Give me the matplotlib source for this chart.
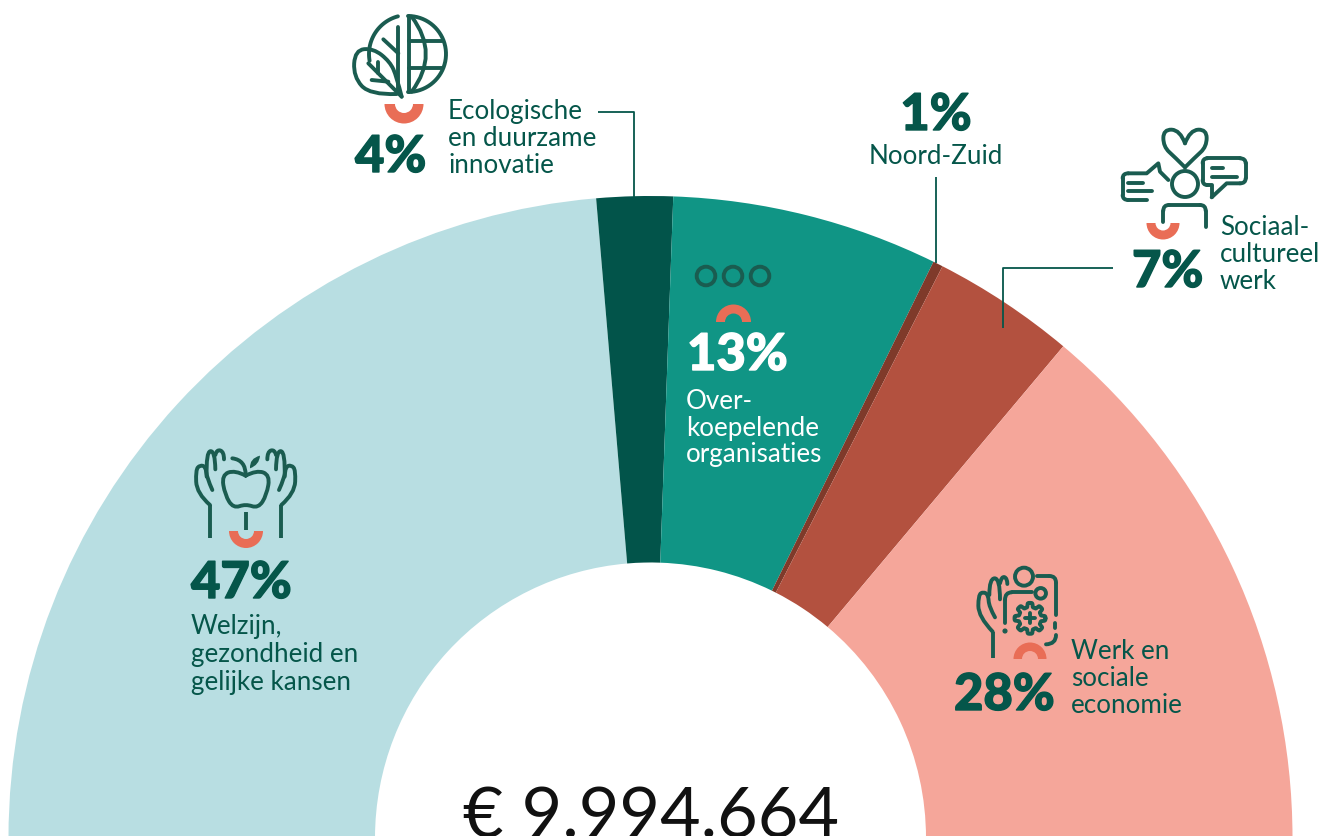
import numpy as np
import matplotlib
matplotlib.use("Agg")
import matplotlib.pyplot as plt
import matplotlib.patheffects as pe
from matplotlib.patches import Wedge, Circle, PathPatch
from matplotlib.path import Path

# ---- data ----
shares = [47.3, 3.83, 13.4, 0.5, 7.2, 27.77]
colors = ["#B8DEE2", "#02544A", "#109585", "#7F3A2A", "#B3513F", "#F5A69A"]
total_label = "€ 9.994.664"

GREEN = "#05564A"
ICON = "#1A5C50"
CORAL = "#E96D56"
FONT = "Lato"

fig = plt.figure(figsize=(13.22, 8.36), dpi=100)
ax = fig.add_axes([0, 0, 1, 1])
ax.pie(shares + [100], colors=colors + ["none"], center=(650.5, 838), radius=642,
       startangle=180, counterclock=True, frame=True,
       wedgeprops=dict(width=366.5, linewidth=0))
ax.set_xlim(0, 1322)
ax.set_ylim(836, 0)
ax.set_aspect("equal")
ax.axis("off")
LW = 2.8


def line(pts, x0=0, y0=0, s=1.0, c=GREEN, lw=LW, cap="round"):
    p = np.asarray(pts, float) * s + [x0, y0]
    ax.plot(p[:, 0], p[:, 1], color=c, lw=lw, solid_capstyle=cap, solid_joinstyle="round", zorder=5)


def curve(pts, x0=0, y0=0, s=1.0, c=ICON, lw=LW):
    """Quadratic spline with pts as control polygon."""
    p = np.asarray(pts, float) * s + [x0, y0]
    verts = [p[0]]
    codes = [Path.MOVETO]
    for i in range(1, len(p) - 1):
        end = p[i + 1] if i == len(p) - 2 else (p[i] + p[i + 1]) / 2
        verts += [p[i], end]
        codes += [Path.CURVE3, Path.CURVE3]
    ax.add_patch(PathPatch(Path(verts, codes), fc="none", ec=c, lw=lw, capstyle="round", joinstyle="round", zorder=5))


def ring(cx, cy, r, width, up):
    t = (180, 360) if up else (0, 180)
    ax.add_patch(Wedge((cx, cy), r, t[0], t[1], width=width, fc=CORAL, ec="none", zorder=5))


def circ(cx, cy, r, c=ICON, lw=LW, fill="none"):
    ax.add_patch(Circle((cx, cy), r, fc=fill, ec=c, lw=lw, zorder=5))


def txt(x, y, s, size=18.7, c=GREEN, ha="left", weight="normal"):
    return ax.text(x, y, s, fontsize=size, color=c, ha=ha, va="baseline", family=FONT, weight=weight, zorder=6)


def pct(x, y, s, c=GREEN, ha="left"):
    t = txt(x, y, s, size=36.5, c=c, ha=ha, weight="black")
    t.set_path_effects([pe.withStroke(linewidth=1.0, foreground=c)])


# ---- leader lines ----
line([(598, 112), (633.5, 112), (633.5, 197)], lw=1.3, cap="butt")
line([(936, 177), (936, 263)], lw=1.3, cap="butt")
line([(1113, 268), (1003, 268), (1003, 328)], lw=1.3, cap="butt")

# ---- labels ----
pct(355, 172, "4%")
for y, s in zip((119, 146, 173), ("Ecologische", "en duurzame", "innovatie")):
    txt(448, y, s)
pct(936, 130, "1%", ha="center")
txt(936, 164, "Noord-Zuid", ha="center")
pct(1132, 287, "7%")
for y, s in zip((235, 262, 289), ("Sociaal-", "cultureel", "werk")):
    txt(1220, y, s)
pct(687, 370, "13%", c="white")
for y, s in zip((409, 436, 462), ("Over-", "koepelende", "organisaties")):
    txt(686, y, s, c="white")
pct(191, 598, "47%")
for y, s in zip((634, 662, 690), ("Welzijn,", "gezondheid en", "gelijke kansen")):
    txt(191, y, s)
pct(954, 710, "28%")
for y, s in zip((659, 686, 713), ("Werk en", "sociale", "economie")):
    txt(1071, y, s)
ax.text(651, 838, total_label, fontsize=50.5, color="#111111", ha="center", va="baseline",
        family=FONT, weight="normal", zorder=6, clip_on=False)

# ---- coral half rings ----
ring(404, 104, 19.5, 10.5, False)
ring(1163, 223, 16.5, 9, False)
ring(246, 531, 17, 9, False)
ring(733.5, 322, 17.5, 9, True)
ring(1030, 659, 16.5, 8.5, True)

# ---- globe / leaf icon ----
s = 1 / 3
X, Y = 340, 0
th = np.radians(np.linspace(-90, 90, 40))
line(np.c_[408 + 38 * np.cos(th), 54 + 38 * np.sin(th)], c=ICON)
th = np.radians(np.linspace(-105, -190, 30))
line(np.c_[408 + 39 * np.cos(th), 54 + 39 * np.sin(th)], c=ICON)
line([(206, 48), (206, 275)], X, Y, s, ICON)
line([(206, 122), (305, 122)], X, Y, s, ICON)
line([(206, 205), (305, 205)], X, Y, s, ICON)
curve([(215, 50), (300, 162), (215, 275)], X, Y, s)
curve([(185, 290), (170, 230), (150, 185), (100, 145), (45, 150), (40, 230), (90, 285), (170, 282)], X, Y, s)
line([(185, 290), (85, 190)], X, Y, s, ICON)
line([(115, 185), (115, 218)], X, Y, s, ICON)
line([(95, 240), (145, 245)], X, Y, s, ICON)
line([(175, 80), (175, 270)], X, Y, s, ICON)
line([(130, 118), (175, 160)], X, Y, s, ICON)

# ---- social icon ----
X, Y = 1100, 120
curve([(255, 142), (225, 112), (190, 80), (190, 28), (240, 30), (255, 70)], X, Y, s)
curve([(255, 142), (285, 112), (320, 80), (320, 28), (270, 30), (255, 70)], X, Y, s)
circ(1185, 184, 13)
line([(190, 305), (190, 272)], X, Y, s, ICON)
curve([(190, 272), (190, 255), (207, 255)], X, Y, s)
line([(207, 255), (300, 255)], X, Y, s, ICON)
curve([(300, 255), (317, 255), (317, 272)], X, Y, s)
line([(317, 272), (317, 320)], X, Y, s, ICON)
line([(140, 240), (85, 240)], X, Y, s, ICON)
curve([(85, 240), (68, 240), (68, 225)], X, Y, s)
line([(68, 225), (68, 175)], X, Y, s, ICON)
curve([(68, 175), (68, 160), (85, 160)], X, Y, s)
line([(85, 160), (140, 160), (175, 130), (180, 155), (205, 180)], X, Y, s, ICON)
line([(85, 188), (130, 188)], X, Y, s, ICON)
line([(85, 212), (155, 212)], X, Y, s, ICON)
line([(335, 232), (335, 195), (322, 195)], X, Y, s, ICON)
curve([(322, 195), (308, 195), (308, 180)], X, Y, s)
line([(308, 180), (308, 130)], X, Y, s, ICON)
curve([(308, 130), (308, 115), (322, 115)], X, Y, s)
line([(322, 115), (420, 115)], X, Y, s, ICON)
curve([(420, 115), (437, 115), (437, 130)], X, Y, s)
line([(437, 130), (437, 175)], X, Y, s, ICON)
curve([(437, 175), (437, 190), (420, 190)], X, Y, s)
line([(420, 190), (380, 190), (335, 232)], X, Y, s, ICON)
line([(335, 145), (370, 145)], X, Y, s, ICON)
line([(335, 170), (410, 170)], X, Y, s, ICON)

# ---- three circles ----
for cx in (706, 733, 760):
    circ(cx, 276, 9.3)

# ---- apple & hands icon ----
X, Y = 180, 440
curve([(197, 107), (165, 90), (125, 105), (135, 165), (160, 205), (197, 192), (235, 205), (260, 165), (270, 105), (230, 90), (197, 107)], X, Y, s)
curve([(157, 55), (197, 60), (197, 105)], X, Y, s)
ax.add_patch(PathPatch(Path(np.array([(210, 85), (208, 55), (240, 47), (238, 75), (210, 85)]) * s + [X, Y],
                            [Path.MOVETO, Path.CURVE3, Path.CURVE3, Path.CURVE3, Path.CURVE3]),
                       fc=ICON, ec="none", zorder=5))
line([(197, 215), (197, 270)], X, Y, s, ICON, cap="butt")
for sign in (1, -1):
    m = lambda pts: [(197 + sign * (x - 197), y) for x, y in pts]
    line(m([(90, 295), (90, 195)]), X, Y, s, ICON, cap="butt")
    curve(m([(90, 195), (50, 160), (47, 90), (60, 75), (77, 80), (80, 112), (97, 150)]), X, Y, s)
    curve(m([(80, 110), (78, 35), (105, 32), (106, 88)]), X, Y, s)
    curve(m([(106, 45), (110, 28), (132, 35), (132, 58)]), X, Y, s)

# ---- work icon ----
X, Y = 950, 560
line([(128, 295), (128, 215)], X, Y, s, ICON, cap="butt")
curve([(128, 215), (85, 170), (85, 105), (100, 95), (115, 105), (117, 140), (135, 172)], X, Y, s)
curve([(118, 105), (118, 55), (150, 55), (150, 118)], X, Y, s)
curve([(150, 70), (155, 48), (172, 55), (172, 72)], X, Y, s)
circ(950 + 222 / 3, 560 + 50 / 3, 9)
line([(260, 48), (298, 48)], X, Y, s, ICON)
curve([(298, 48), (318, 48), (318, 68)], X, Y, s)
line([(318, 68), (318, 165)], X, Y, s, ICON)
line([(316, 190), (316, 203)], X, Y, s, ICON)
curve([(318, 225), (318, 252), (288, 253)], X, Y, s)
line([(165, 190), (165, 120)], X, Y, s, ICON)
curve([(165, 120), (165, 97), (185, 97)], X, Y, s)
line([(185, 97), (245, 97)], X, Y, s, ICON)
circ(950 + 272 / 3, 560 + 100 / 3, 5.3)
circ(950 + 165 / 3, 560 + 213 / 3, 2, fill=ICON, lw=0.8)
a = np.radians(np.linspace(0, 360, 241))
rg = 40 + 6.5 * np.tanh(3 * np.cos(8 * a))
line(np.c_[240 + rg * np.cos(a), 175 + rg * np.sin(a)], X, Y, s, ICON)
line([(240, 160), (240, 190)], X, Y, s, ICON)
line([(225, 175), (255, 175)], X, Y, s, ICON)

fig.savefig("out.png", dpi=100)
